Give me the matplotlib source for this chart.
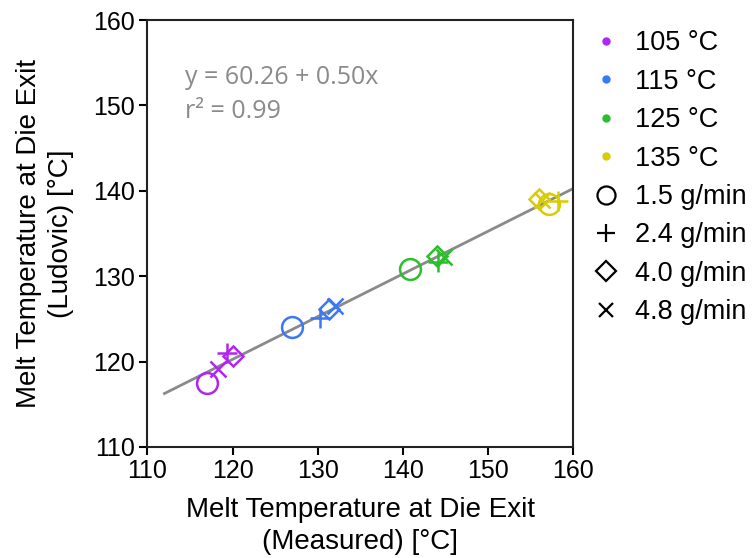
import numpy as np
import matplotlib.pyplot as plt
from matplotlib.lines import Line2D

plt.rcParams['font.family'] = ['Liberation Sans', 'DejaVu Sans']

# -----------------------------
# Data
# -----------------------------
temps = ["105 °C", "115 °C", "125 °C", "135 °C"]
temp_colors = ["#B026F0", "#3A78F5", "#2DBE2D", "#D9CC00"]
rates = ["1.5 g/min", "2.4 g/min", "4.0 g/min", "4.8 g/min"]
rate_markers = ["o", "+", "D", "x"]

# measured (x) and Ludovic (y), one row per temperature, columns follow rates
measured = [
    [117.0, 119.3, 120.0, 118.3],
    [127.0, 130.3, 131.3, 132.0],
    [140.9, 144.1, 144.0, 144.8],
    [157.2, 158.2, 156.0, 156.3],
]
ludovic = [
    [117.5, 121.0, 120.7, 119.1],
    [124.0, 125.1, 126.2, 126.5],
    [130.9, 131.7, 132.4, 132.2],
    [138.4, 138.8, 139.1, 138.9],
]

fit_intercept = 60.26
fit_slope = 0.50
fit_range = [112, 160]

# -----------------------------
# Plot
# -----------------------------
fig = plt.figure(figsize=(7.56, 5.58), dpi=100)
ax = fig.add_axes([0.195, 0.199, 0.563, 0.765])

fx = np.array(fit_range)
ax.plot(fx, fit_intercept + fit_slope * fx, color="#8a8a8a", lw=2, zorder=1)

sizes = {"o": 15, "+": 14, "D": 10, "x": 11}
for i, col in enumerate(temp_colors):
    for j, mk in enumerate(rate_markers):
        ax.plot(measured[i][j], ludovic[i][j], marker=mk, ms=sizes[mk],
                mfc="none", mec=col, mew=1.8, ls="none", zorder=2)

ax.set_xlim(110, 160)
ax.set_ylim(110, 160)
ax.set_xticks(range(110, 161, 10))
ax.set_yticks(range(110, 161, 10))
ax.tick_params(direction="out", length=6, width=1.5, labelsize=18, pad=3)
for sp in ax.spines.values():
    sp.set_linewidth(1.5)
    sp.set_color("#222222")

ax.set_xlabel("Melt Temperature at Die Exit\n(Measured) [°C]", fontsize=20,
              labelpad=10, linespacing=1.3)
ax.set_ylabel("Melt Temperature at Die Exit\n(Ludovic) [°C]", fontsize=20,
              labelpad=14, linespacing=1.3)

ax.text(0.088, 0.895, "y = 60.26 + 0.50x\nr² = 0.99", transform=ax.transAxes,
        fontsize=18, color="#8a8a8a", family=["Open Sans", "DejaVu Sans"],
        va="top", linespacing=1.5)

handles = []
for t, c in zip(temps, temp_colors):
    handles.append(Line2D([], [], marker="o", ms=5, color=c, ls="none", label=t))
for r, m in zip(rates, rate_markers):
    ms = {"o": 13, "+": 13, "D": 10, "x": 10}[m]
    handles.append(Line2D([], [], marker=m, ms=ms, mfc="none", mec="black",
                          mew=1.6, ls="none", label=r))
fig.legend(handles=handles, loc="upper left", bbox_to_anchor=(0.758, 0.975),
           frameon=False, fontsize=19.5, handletextpad=0.5, labelspacing=0.46,
           handlelength=1.2, borderaxespad=0.2)

fig.savefig("out.png", dpi=100)
